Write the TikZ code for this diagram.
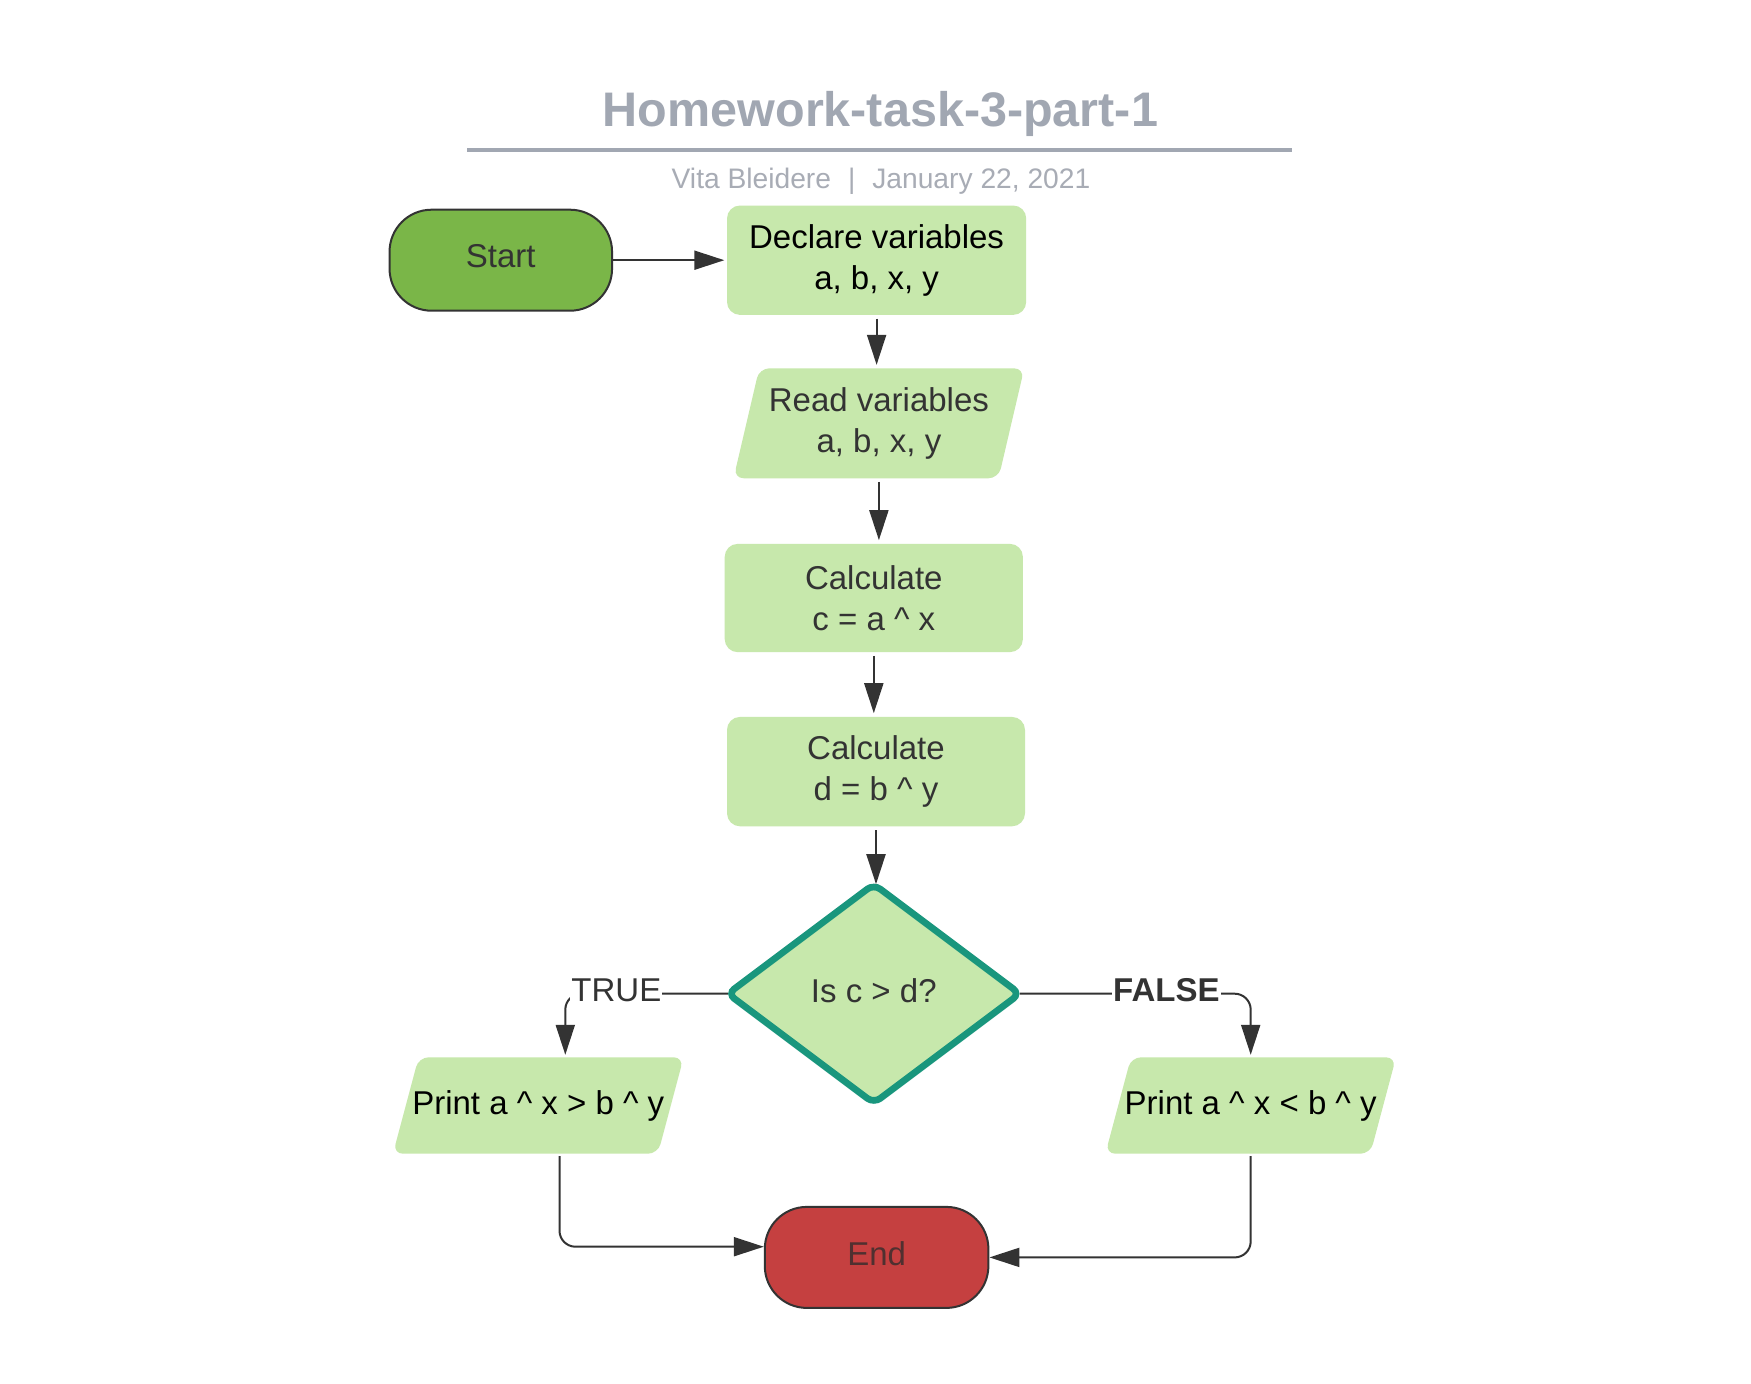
\documentclass[tikz,border=0pt]{standalone}
\usepackage{fontspec}
\setmainfont{Liberation Sans}
\usetikzlibrary{arrows.meta,shapes.geometric,backgrounds,calc}
\definecolor{lgreen}{HTML}{C7E8AC}
\definecolor{sgreen}{HTML}{7AB648}
\definecolor{ered}{RGB}{197,64,64}
\definecolor{tealc}{HTML}{19967D}
\definecolor{ink}{HTML}{333333}
\definecolor{tgray}{RGB}{161,167,178}
\definecolor{sgray}{RGB}{168,172,181}
\begin{document}
\begin{tikzpicture}[x=1pt,y=-1pt,
  txt/.style={font=\fontsize{33}{41}\selectfont, align=center},
  procbox/.style={txt, rectangle, rounded corners=13, fill=lgreen, inner sep=0pt, minimum width=298, minimum height=109},
  iobox/.style={txt, rectangle, inner sep=0pt, minimum width=290.3},
  iofill/.style={fill=lgreen, rounded corners=10},
  term/.style={txt, rectangle, rounded corners=42, draw=ink, line width=2pt, inner sep=0pt, minimum width=222.5, minimum height=101, text depth=8pt},
  arr/.style={draw=ink, line width=2pt, -{Triangle[length=30pt,width=19pt]}},
  lbl/.style={txt, fill=white, inner sep=1pt, text=ink}
]
\useasboundingbox (0,0) rectangle (1751,1384);
\begin{scope}[on background layer]
\fill[white] (0,0) rectangle (1751,1384);
\end{scope}

% title block
\node[anchor=base, text=tgray, font=\fontsize{48.5}{58}\selectfont\bfseries, inner sep=0pt] (title) at (880.5,126.7) {Homework-task-3-part-1};
\coordinate (ruleL) at (467,150);
\coordinate (ruleR) at (1292,150);
\draw[tgray, line width=4pt] (ruleL) -- (ruleR);
\node[anchor=base, text=sgray, font=\fontsize{28.2}{34}\selectfont, inner sep=0pt] (sub) at (881,188.3) {Vita Bleidere\hspace{17pt}|\hspace{17pt}January 22, 2021};

% nodes
\node[term, fill=sgreen, text=ink] (start) at (500.8,260.2) {Start};
\node[procbox, minimum width=299.2, minimum height=109.4, text=black] (declare) at (876.6,260.2) {Declare variables\\a, b, x, y};
\node[iobox, minimum height=109.5, text=ink] (read) at (878.9,423.3) {Read variables\\a, b, x, y};
\node[procbox, minimum width=298.2, minimum height=108.3, text=ink] (calcc) at (873.8,598) {Calculate\\c = a \textasciicircum{} x};
\node[procbox, minimum width=298, minimum height=109.4, text=ink] (calcd) at (876,771.6) {Calculate\\d = b \textasciicircum{} y};
\node[txt, diamond, fill=lgreen, draw=tealc, line width=6.7pt, rounded corners=8, outer sep=0pt, inner sep=0pt, minimum width=292, minimum height=219, text depth=6pt, text=ink] (dec) at (873.8,993.7) {Is c > d?};
\node[iobox, minimum height=96, text=black] (printL) at (538.3,1105.5) {Print a \textasciicircum{} x > b \textasciicircum{} y};
\node[iobox, minimum height=96, text=black] (printR) at (1250.7,1105.5) {Print a \textasciicircum{} x < b \textasciicircum{} y};
\node[term, fill=ered, text={rgb,255:red,80;green,48;blue,48}, minimum width=223.6] (end) at (876.6,1257.4) {End};

% parallelogram backgrounds
\begin{scope}[on background layer]
\fill[iofill] (read.south west) -- ([xshift=25.7pt]read.north west) -- (read.north east) -- ([xshift=-25.7pt]read.south east) -- cycle;
\fill[iofill] (printL.south west) -- ([xshift=25.7pt]printL.north west) -- (printL.north east) -- ([xshift=-25.7pt]printL.south east) -- cycle;
\fill[iofill] (printR.south west) -- ([xshift=25.7pt]printR.north west) -- (printR.north east) -- ([xshift=-25.7pt]printR.south east) -- cycle;
\end{scope}

% connectors
\draw[arr, shorten >=2.5pt] (start.east) -- (declare.west);
\draw[arr, shorten <=3.5pt, shorten >=3.5pt] (declare.south) -- (declare.south |- read.north);
\draw[arr, shorten <=3.5pt, shorten >=3.5pt] (read.south) -- (read.south |- calcc.north);
\draw[arr, shorten <=3.5pt, shorten >=3.5pt] (calcc.south) -- (calcc.south |- calcd.north);
\draw[arr, shorten <=3.5pt] (calcd.south) -- (calcd.south |- dec.north);
\draw[arr, rounded corners=16, shorten >=2.5pt] (dec.west) -| ([xshift=27pt]printL.north);
\draw[arr, rounded corners=16, shorten >=2.5pt] (dec.east) -| (printR.north);
\draw[arr, rounded corners=16, shorten <=2.5pt] ([xshift=21.2pt]printL.south) |- ([yshift=10.7pt]end.west);
\draw[arr, rounded corners=16, shorten <=2.5pt] (printR.south) |- (end.east);

% branch labels
\node[lbl] (tl) at (616.4,990.5) {TRUE};
\node[lbl, font=\fontsize{33}{41}\selectfont\bfseries] (fl) at (1166.4,990.5) {FALSE};
\end{tikzpicture}
\end{document}
